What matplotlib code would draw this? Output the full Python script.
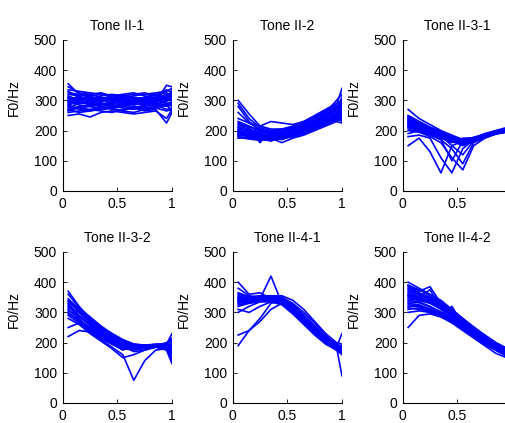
import matplotlib
matplotlib.use("Agg")
import matplotlib.pyplot as plt

plt.rcParams['font.family'] = ['Liberation Sans', 'DejaVu Sans']

# normalised time points shared by all contours
x = [0.05, 0.15, 0.25, 0.35, 0.45, 0.55, 0.65, 0.75, 0.85, 0.95, 1.0]

titles = ['Tone II-1', 'Tone II-2', 'Tone II-3-1',
          'Tone II-3-2', 'Tone II-4-1', 'Tone II-4-2']

tone_2_1 = [
    [355, 320, 315, 300, 305, 295, 300, 310, 320, 300, 310],
    [300, 290, 295, 300, 290, 285, 290, 295, 300, 290, 295],
    [280, 275, 270, 275, 280, 275, 270, 280, 285, 270, 275],
    [320, 315, 320, 310, 305, 300, 305, 310, 305, 315, 320],
    [260, 265, 270, 265, 260, 270, 275, 265, 270, 225, 260],
    [310, 305, 300, 295, 300, 305, 310, 300, 295, 350, 345],
    [290, 300, 310, 305, 300, 295, 285, 290, 300, 310, 300],
    [270, 280, 285, 290, 285, 280, 275, 285, 290, 280, 285],
    [335, 330, 325, 320, 315, 310, 315, 320, 325, 330, 340],
    [250, 255, 245, 260, 265, 260, 255, 260, 265, 240, 270],
    [295, 285, 280, 285, 290, 300, 305, 300, 290, 285, 290],
    [315, 300, 295, 290, 280, 285, 295, 305, 310, 320, 310],
    [275, 290, 300, 295, 305, 310, 300, 295, 285, 300, 310],
    [305, 310, 305, 315, 320, 315, 310, 305, 300, 295, 330],
    [285, 270, 265, 270, 275, 265, 280, 275, 280, 290, 280],
    [300, 315, 300, 310, 295, 290, 305, 285, 310, 300, 300],
    [330, 310, 300, 305, 310, 300, 295, 300, 305, 310, 300],
    [265, 275, 280, 270, 275, 285, 280, 270, 275, 265, 270],
    [345, 325, 320, 325, 315, 320, 325, 315, 310, 335, 325],
    [285, 295, 290, 285, 295, 290, 295, 300, 295, 305, 300],
    [310, 295, 285, 280, 285, 280, 290, 285, 295, 280, 290],
    [295, 305, 315, 320, 310, 305, 300, 310, 320, 325, 315],
    [270, 260, 265, 280, 270, 265, 260, 270, 275, 285, 265],
    [325, 320, 310, 300, 305, 315, 320, 325, 315, 305, 335],
]

tone_2_2 = [
    [300, 255, 215, 205, 205, 215, 230, 250, 270, 290, 300],
    [290, 240, 210, 200, 200, 210, 225, 245, 265, 285, 340],
    [280, 230, 200, 190, 195, 205, 220, 240, 260, 280, 290],
    [230, 215, 200, 195, 195, 200, 215, 230, 250, 270, 280],
    [210, 200, 190, 185, 185, 195, 205, 225, 245, 260, 270],
    [200, 195, 185, 180, 180, 190, 200, 215, 235, 250, 260],
    [190, 185, 180, 175, 180, 185, 195, 210, 225, 240, 250],
    [185, 180, 175, 165, 180, 180, 190, 205, 220, 235, 245],
    [180, 175, 170, 175, 160, 175, 185, 200, 215, 230, 240],
    [220, 210, 160, 200, 205, 210, 220, 235, 255, 275, 285],
    [195, 190, 185, 185, 190, 195, 205, 220, 240, 255, 265],
    [205, 200, 195, 190, 190, 200, 210, 225, 240, 230, 225],
    [215, 205, 195, 195, 200, 205, 215, 225, 235, 245, 255],
    [175, 178, 175, 180, 182, 188, 200, 215, 232, 245, 230],
    [240, 225, 215, 230, 225, 220, 230, 245, 260, 300, 320],
    [188, 182, 178, 178, 170, 185, 198, 212, 228, 242, 258],
    [195, 185, 180, 180, 185, 190, 200, 215, 230, 245, 255],
    [185, 185, 178, 182, 178, 190, 205, 220, 238, 255, 270],
    [210, 195, 188, 185, 188, 195, 208, 222, 238, 252, 262],
    [178, 172, 168, 170, 172, 180, 192, 208, 222, 238, 248],
    [225, 212, 200, 192, 195, 200, 212, 228, 248, 265, 275],
    [200, 188, 182, 178, 178, 186, 196, 210, 228, 248, 300],
    [192, 188, 182, 176, 176, 182, 194, 208, 226, 240, 236],
    [260, 225, 205, 195, 192, 198, 212, 232, 252, 272, 310],
]

tone_2_3_1 = [
    [270, 240, 220, 200, 185, 170, 175, 190, 200, 210, 215],
    [250, 230, 210, 195, 180, 165, 170, 185, 195, 205, 210],
    [240, 225, 205, 190, 175, 160, 170, 180, 195, 205, 210],
    [230, 220, 200, 185, 170, 155, 165, 180, 190, 200, 205],
    [220, 210, 195, 180, 165, 150, 165, 178, 188, 198, 200],
    [215, 205, 190, 175, 160, 175, 175, 185, 195, 200, 205],
    [210, 200, 185, 170, 140, 90, 160, 180, 190, 195, 200],
    [205, 195, 180, 160, 110, 70, 150, 175, 190, 195, 195],
    [180, 185, 175, 110, 60, 140, 170, 180, 190, 195, 200],
    [150, 175, 130, 60, 150, 165, 175, 185, 195, 200, 200],
    [190, 200, 190, 170, 100, 165, 175, 185, 195, 200, 205],
    [235, 215, 195, 185, 170, 165, 172, 182, 192, 202, 208],
    [225, 215, 200, 190, 180, 168, 178, 188, 198, 205, 212],
    [245, 228, 208, 192, 178, 165, 172, 186, 196, 204, 206],
    [200, 195, 190, 180, 170, 160, 165, 175, 190, 198, 185],
    [228, 212, 198, 185, 172, 160, 168, 180, 192, 200, 204],
    [238, 222, 204, 188, 174, 162, 170, 182, 194, 204, 210],
    [218, 208, 196, 182, 168, 158, 166, 178, 190, 198, 202],
    [248, 230, 212, 196, 180, 168, 174, 184, 194, 202, 208],
    [212, 204, 192, 178, 166, 156, 162, 176, 188, 196, 200],
    [232, 218, 202, 188, 176, 172, 176, 186, 196, 206, 214],
    [222, 210, 196, 184, 150, 120, 166, 180, 192, 200, 206],
    [242, 224, 206, 190, 176, 164, 170, 184, 196, 206, 212],
]

tone_2_3_2 = [
    [370, 320, 280, 250, 225, 205, 190, 190, 190, 195, 230],
    [340, 300, 265, 240, 215, 195, 185, 185, 185, 190, 200],
    [330, 290, 255, 230, 205, 190, 180, 185, 190, 185, 180],
    [320, 285, 260, 235, 210, 190, 185, 190, 195, 195, 190],
    [310, 275, 245, 220, 200, 185, 180, 185, 190, 185, 170],
    [300, 270, 240, 215, 195, 175, 190, 190, 185, 180, 160],
    [290, 265, 235, 210, 185, 160, 75, 140, 175, 180, 150],
    [280, 260, 230, 205, 180, 150, 160, 175, 185, 180, 140],
    [250, 265, 250, 225, 200, 180, 175, 180, 185, 175, 130],
    [220, 240, 235, 215, 195, 180, 185, 190, 190, 190, 185],
    [345, 310, 275, 250, 230, 210, 195, 190, 190, 195, 210],
    [315, 300, 270, 245, 220, 200, 188, 186, 188, 192, 195],
    [325, 280, 245, 225, 210, 190, 170, 175, 185, 200, 205],
    [305, 290, 260, 240, 220, 200, 192, 190, 192, 188, 190],
    [335, 305, 270, 245, 222, 202, 192, 188, 186, 190, 175],
    [295, 275, 250, 228, 208, 190, 182, 184, 188, 182, 165],
    [360, 315, 285, 255, 230, 208, 195, 192, 194, 198, 215],
]

tone_2_4_1 = [
    [400, 360, 365, 345, 330, 300, 265, 230, 200, 185, 170],
    [360, 350, 355, 350, 340, 315, 280, 245, 210, 190, 175],
    [350, 345, 350, 345, 335, 310, 275, 240, 205, 185, 165],
    [340, 340, 345, 420, 330, 305, 270, 235, 200, 180, 175],
    [330, 335, 340, 340, 330, 300, 265, 230, 200, 180, 170],
    [320, 330, 335, 335, 325, 295, 260, 225, 195, 175, 180],
    [380, 355, 350, 350, 345, 325, 290, 255, 220, 195, 185],
    [345, 350, 355, 355, 350, 330, 300, 265, 225, 185, 90],
    [190, 240, 280, 330, 340, 320, 285, 250, 215, 190, 190],
    [225, 240, 270, 310, 330, 315, 280, 245, 210, 185, 230],
    [300, 320, 335, 340, 335, 305, 270, 235, 200, 175, 160],
    [335, 345, 350, 355, 355, 340, 310, 270, 230, 200, 195],
    [355, 345, 340, 340, 330, 305, 268, 232, 202, 182, 168],
    [310, 300, 320, 335, 338, 312, 276, 240, 206, 184, 178],
    [345, 340, 345, 348, 342, 318, 282, 246, 210, 188, 175],
    [365, 352, 348, 346, 340, 320, 286, 250, 214, 190, 182],
    [335, 338, 342, 345, 338, 312, 276, 238, 204, 182, 172],
    [325, 332, 338, 342, 336, 308, 272, 236, 198, 178, 168],
    [350, 348, 352, 352, 346, 326, 292, 256, 218, 194, 186],
    [340, 342, 346, 350, 344, 322, 288, 252, 214, 186, 178],
]

tone_2_4_2 = [
    [400, 380, 360, 340, 310, 280, 250, 225, 200, 180, 170],
    [390, 370, 385, 330, 300, 270, 245, 220, 195, 175, 165],
    [375, 360, 345, 325, 300, 275, 250, 225, 200, 180, 170],
    [365, 350, 340, 320, 295, 270, 245, 220, 195, 175, 165],
    [355, 345, 335, 315, 290, 265, 240, 215, 190, 170, 160],
    [345, 340, 330, 310, 285, 260, 235, 210, 185, 165, 158],
    [340, 335, 320, 300, 280, 255, 230, 205, 185, 165, 155],
    [330, 325, 310, 295, 275, 250, 225, 200, 180, 160, 150],
    [320, 320, 305, 290, 270, 245, 220, 195, 175, 155, 148],
    [310, 315, 300, 285, 265, 240, 215, 190, 165, 150, 145],
    [250, 290, 295, 285, 270, 245, 220, 195, 175, 160, 150],
    [300, 305, 300, 290, 320, 260, 235, 210, 185, 165, 158],
    [385, 365, 350, 330, 305, 280, 250, 222, 198, 178, 168],
    [360, 348, 338, 318, 300, 268, 242, 218, 194, 172, 162],
    [370, 355, 345, 322, 298, 272, 246, 220, 196, 176, 166],
    [350, 342, 332, 312, 288, 262, 238, 212, 188, 168, 160],
    [335, 332, 318, 302, 280, 256, 230, 206, 184, 164, 156],
    [380, 362, 348, 328, 302, 276, 248, 222, 198, 178, 170],
    [325, 322, 312, 296, 276, 252, 226, 202, 180, 160, 152],
    [355, 350, 375, 316, 292, 266, 240, 214, 190, 170, 162],
    [315, 310, 305, 292, 272, 248, 222, 198, 176, 158, 150],
    [390, 375, 355, 335, 305, 278, 252, 224, 200, 182, 172],
]

panels = [tone_2_1, tone_2_2, tone_2_3_1, tone_2_3_2, tone_2_4_1, tone_2_4_2]

fig = plt.figure(figsize=(5.05, 4.23), dpi=100)

# MATLAB-like subplot grid, right column runs off the canvas
lefts = [0.1242, 0.4608, 0.7974]
bottoms = [0.5485, 0.0473]
w, h = 0.2164, 0.357

for i, (title, curves) in enumerate(zip(titles, panels)):
    ax = fig.add_axes([lefts[i % 3], bottoms[i // 3], w, h])
    for y in curves:
        ax.plot(x, y, color='b', lw=1.2)
    ax.set_xlim(0, 1)
    ax.set_ylim(0, 500)
    ax.set_xticks([0, 0.5, 1])
    ax.set_xticklabels(['0', '0.5', '1'])
    ax.set_yticks([0, 100, 200, 300, 400, 500])
    ax.spines['top'].set_visible(False)
    ax.spines['right'].set_visible(False)
    ax.tick_params(direction='in', length=3, width=0.6, labelsize=10, pad=4)
    for s in ('left', 'bottom'):
        ax.spines[s].set_linewidth(0.8)
    ax.set_title(title, fontsize=10, pad=7)
    ax.set_ylabel('F0/Hz', fontsize=10)
    ax.yaxis.set_label_coords(-0.38, 0.62)

fig.savefig('out.png', dpi=100, facecolor='white')
